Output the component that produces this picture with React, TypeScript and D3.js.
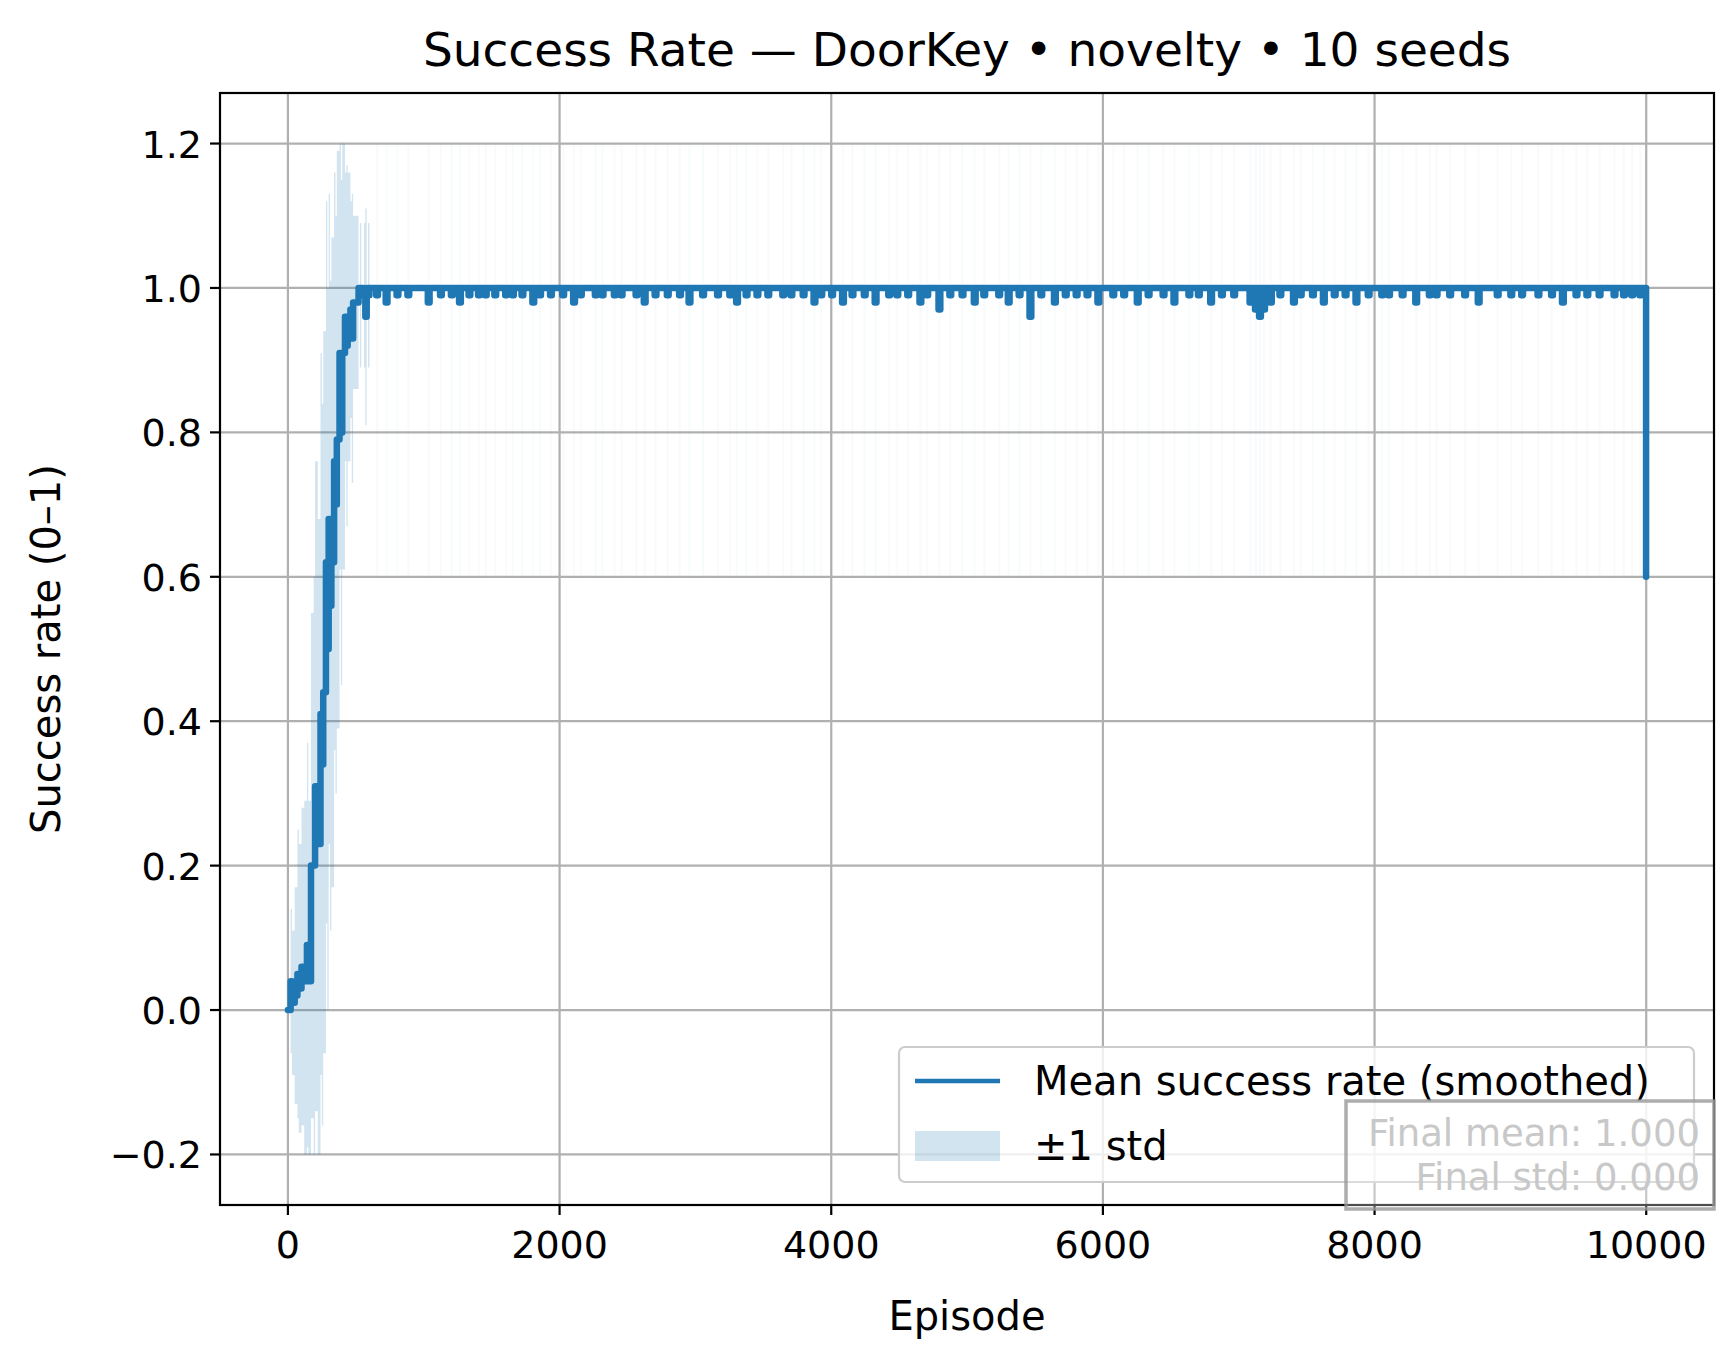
import React from "react";
import * as d3 from "d3";

const W = 1736;
const H = 1361;
const M = { left: 220, right: 1714, top: 93, bottom: 1205 };

// early ramp of the smoothed mean (episode, value)
const rampEpisodes = [0, 20, 30, 50, 70, 80, 100, 120, 140, 150, 170, 190, 200, 220, 240, 250, 260, 280, 290, 300, 310, 320, 340, 350, 360, 380, 390, 400, 420, 430, 440, 460, 470, 480, 500, 520, 530, 540, 560, 570, 580, 590, 600];
const rampValues = [0.0, 0.04, 0.01, 0.02, 0.05, 0.03, 0.06, 0.04, 0.09, 0.04, 0.2, 0.2, 0.31, 0.23, 0.41, 0.34, 0.44, 0.62, 0.5, 0.68, 0.56, 0.62, 0.76, 0.7, 0.79, 0.91, 0.8, 0.91, 0.96, 0.92, 0.96, 0.97, 0.93, 0.98, 0.98, 1.0, 0.99, 1.0, 0.99, 0.96, 1.0, 0.99, 1.0];
const rampStd = [0.0, 0.1, 0.1, 0.15, 0.2, 0.2, 0.22, 0.25, 0.28, 0.25, 0.35, 0.4, 0.45, 0.45, 0.5, 0.5, 0.5, 0.5, 0.5, 0.45, 0.45, 0.45, 0.4, 0.4, 0.4, 0.3, 0.35, 0.3, 0.2, 0.25, 0.2, 0.15, 0.2, 0.12, 0.12, 0.0, 0.1, 0.0, 0.1, 0.15, 0.0, 0.1, 0.0];

// later dips below 1.0 (episode, value)
const dipEpisodes = [650, 720, 800, 880, 1030, 1120, 1200, 1260, 1330, 1400, 1450, 1520, 1600, 1650, 1720, 1800, 1850, 1930, 2020, 2100, 2150, 2260, 2310, 2400, 2450, 2560, 2620, 2700, 2790, 2880, 2950, 3050, 3160, 3250, 3300, 3370, 3450, 3530, 3640, 3700, 3790, 3870, 3920, 4000, 4080, 4150, 4240, 4320, 4420, 4480, 4560, 4650, 4700, 4790, 4870, 4960, 5050, 5120, 5230, 5300, 5380, 5460, 5540, 5640, 5720, 5800, 5880, 5960, 6070, 6150, 6250, 6330, 6440, 6520, 6630, 6700, 6790, 6870, 6960, 7080, 7120, 7150, 7180, 7230, 7300, 7400, 7450, 7540, 7620, 7700, 7780, 7860, 7950, 8050, 8100, 8200, 8300, 8400, 8450, 8550, 8660, 8760, 8900, 9000, 9080, 9200, 9300, 9380, 9480, 9560, 9650, 9760, 9830, 9890, 9950];
const dipValues = [0.99, 0.98, 0.99, 0.99, 0.98, 0.99, 0.99, 0.98, 0.99, 0.99, 0.99, 0.99, 0.99, 0.99, 0.99, 0.98, 0.99, 0.99, 0.99, 0.98, 0.99, 0.99, 0.99, 0.99, 0.99, 0.99, 0.98, 0.99, 0.99, 0.99, 0.98, 0.99, 0.99, 0.99, 0.98, 0.99, 0.99, 0.99, 0.99, 0.99, 0.99, 0.98, 0.99, 0.99, 0.98, 0.99, 0.99, 0.98, 0.99, 0.99, 0.99, 0.98, 0.99, 0.97, 0.99, 0.99, 0.98, 0.99, 0.99, 0.98, 0.99, 0.96, 0.99, 0.98, 0.99, 0.99, 0.99, 0.98, 0.99, 0.99, 0.98, 0.99, 0.99, 0.98, 0.99, 0.99, 0.98, 0.99, 0.99, 0.98, 0.97, 0.96, 0.97, 0.98, 0.99, 0.98, 0.99, 0.99, 0.98, 0.99, 0.99, 0.98, 0.99, 0.99, 0.99, 0.99, 0.98, 0.99, 0.99, 0.99, 0.99, 0.98, 0.99, 0.99, 0.99, 0.99, 0.99, 0.98, 0.99, 0.99, 0.99, 0.99, 0.99, 0.99, 0.99];
const lastEpisode = 9999;
const lastValue = 0.6;

const xTicks = [0, 2000, 4000, 6000, 8000, 10000];
const yTicks = [-0.2, 0, 0.2, 0.4, 0.6, 0.8, 1.0, 1.2];

const BLUE = "#1f77b4";
const FONT = "DejaVu Sans";

export default function App() {
  const x = d3.scaleLinear().domain([-500, 10499]).range([M.left, M.right]);
  const y = d3.scaleLinear().domain([-0.27, 1.27]).range([M.bottom, M.top]);

  const pts: [number, number][] = rampEpisodes.map((e, i) => [e, rampValues[i]]);
  dipEpisodes.forEach((e, i) => {
    pts.push([e - 1, 1.0]);
    pts.push([e, dipValues[i]]);
    pts.push([e + 12, dipValues[i]]);
    pts.push([e + 13, 1.0]);
  });
  pts.push([lastEpisode - 1, 1.0]);
  pts.push([lastEpisode, lastValue]);

  const line = d3.line<[number, number]>().x((d) => x(d[0])).y((d) => y(d[1])).curve(d3.curveStepAfter);
  const band = d3
    .area<number>()
    .x((_, i) => x(rampEpisodes[i]))
    .y0((_, i) => y(Math.max(-0.2, rampValues[i] - rampStd[i])))
    .y1((_, i) => y(Math.min(1.2, rampValues[i] + rampStd[i])))
    .curve(d3.curveStepAfter);

  const fmtY = (v: number) => (v < 0 ? "\u2212" : "") + Math.abs(v).toFixed(1);

  return (
    <svg width={W} height={H} style={{ position: "absolute", left: 0, top: 0, background: "#fff" }} fontFamily={FONT}>
      <defs>
        <clipPath id="plot">
          <rect x={M.left} y={M.top} width={M.right - M.left} height={M.bottom - M.top} />
        </clipPath>
      </defs>
      {/* grid */}
      {xTicks.map((t) => (
        <line key={"gx" + t} x1={x(t)} x2={x(t)} y1={M.top} y2={M.bottom} stroke="#b0b0b0" strokeWidth={2.2} />
      ))}
      {yTicks.map((t) => (
        <line key={"gy" + t} x1={M.left} x2={M.right} y1={y(t)} y2={y(t)} stroke="#b0b0b0" strokeWidth={2.2} />
      ))}
      <g clipPath="url(#plot)">
        <path d={band(rampValues) || ""} fill={BLUE} opacity={0.2} />
        {dipEpisodes.map((e, i) => (
          <line key={"s" + i} x1={x(e + 6)} x2={x(e + 6)} y1={y(1.2)} y2={y(0.6)} stroke={BLUE} strokeWidth={2} opacity={0.025} />
        ))}
        <path d={line(pts) || ""} fill="none" stroke={BLUE} strokeWidth={6.5} strokeLinejoin="round" strokeLinecap="round" />
      </g>
      {/* axes frame */}
      <rect x={M.left} y={M.top} width={M.right - M.left} height={M.bottom - M.top} fill="none" stroke="#000" strokeWidth={2.2} />
      {xTicks.map((t) => (
        <g key={"tx" + t}>
          <line x1={x(t)} x2={x(t)} y1={M.bottom} y2={M.bottom + 10} stroke="#000" strokeWidth={2.2} />
          <text x={x(t)} y={M.bottom + 53} textAnchor="middle" fontSize={38}>{t}</text>
        </g>
      ))}
      {yTicks.map((t) => (
        <g key={"ty" + t}>
          <line x1={M.left - 10} x2={M.left} y1={y(t)} y2={y(t)} stroke="#000" strokeWidth={2.2} />
          <text x={M.left - 18} y={y(t) + 14} textAnchor="end" fontSize={38}>{fmtY(t)}</text>
        </g>
      ))}
      <text x={(M.left + M.right) / 2} y={66} textAnchor="middle" fontSize={47}>Success Rate — DoorKey • novelty • 10 seeds</text>
      <text x={(M.left + M.right) / 2} y={1330} textAnchor="middle" fontSize={40}>Episode</text>
      <text transform={`translate(60, ${(M.top + M.bottom) / 2}) rotate(-90)`} textAnchor="middle" fontSize={40}>Success rate (0–1)</text>
      {/* legend */}
      <rect x={899} y={1047} width={795} height={135} rx={6} fill="#fff" fillOpacity={0.8} stroke="#cccccc" strokeWidth={2.2} />
      <line x1={915} x2={1000} y1={1081} y2={1081} stroke={BLUE} strokeWidth={4.5} />
      <text x={1034} y={1095} fontSize={40}>Mean success rate (smoothed)</text>
      <rect x={915} y={1131} width={85} height={30} fill={BLUE} opacity={0.2} />
      <text x={1034} y={1160} fontSize={40}>±1 std</text>
      {/* final stats box */}
      <rect x={1346} y={1101} width={368} height={108} fill="#fff" fillOpacity={0.3} stroke="#999" strokeOpacity={0.8} strokeWidth={3.5} />
      <text x={1700} y={1146} textAnchor="end" fontSize={37} fill="#c8c8c8">Final mean: 1.000</text>
      <text x={1700} y={1190} textAnchor="end" fontSize={37} fill="#c8c8c8">Final std: 0.000</text>
    </svg>
  );
}
